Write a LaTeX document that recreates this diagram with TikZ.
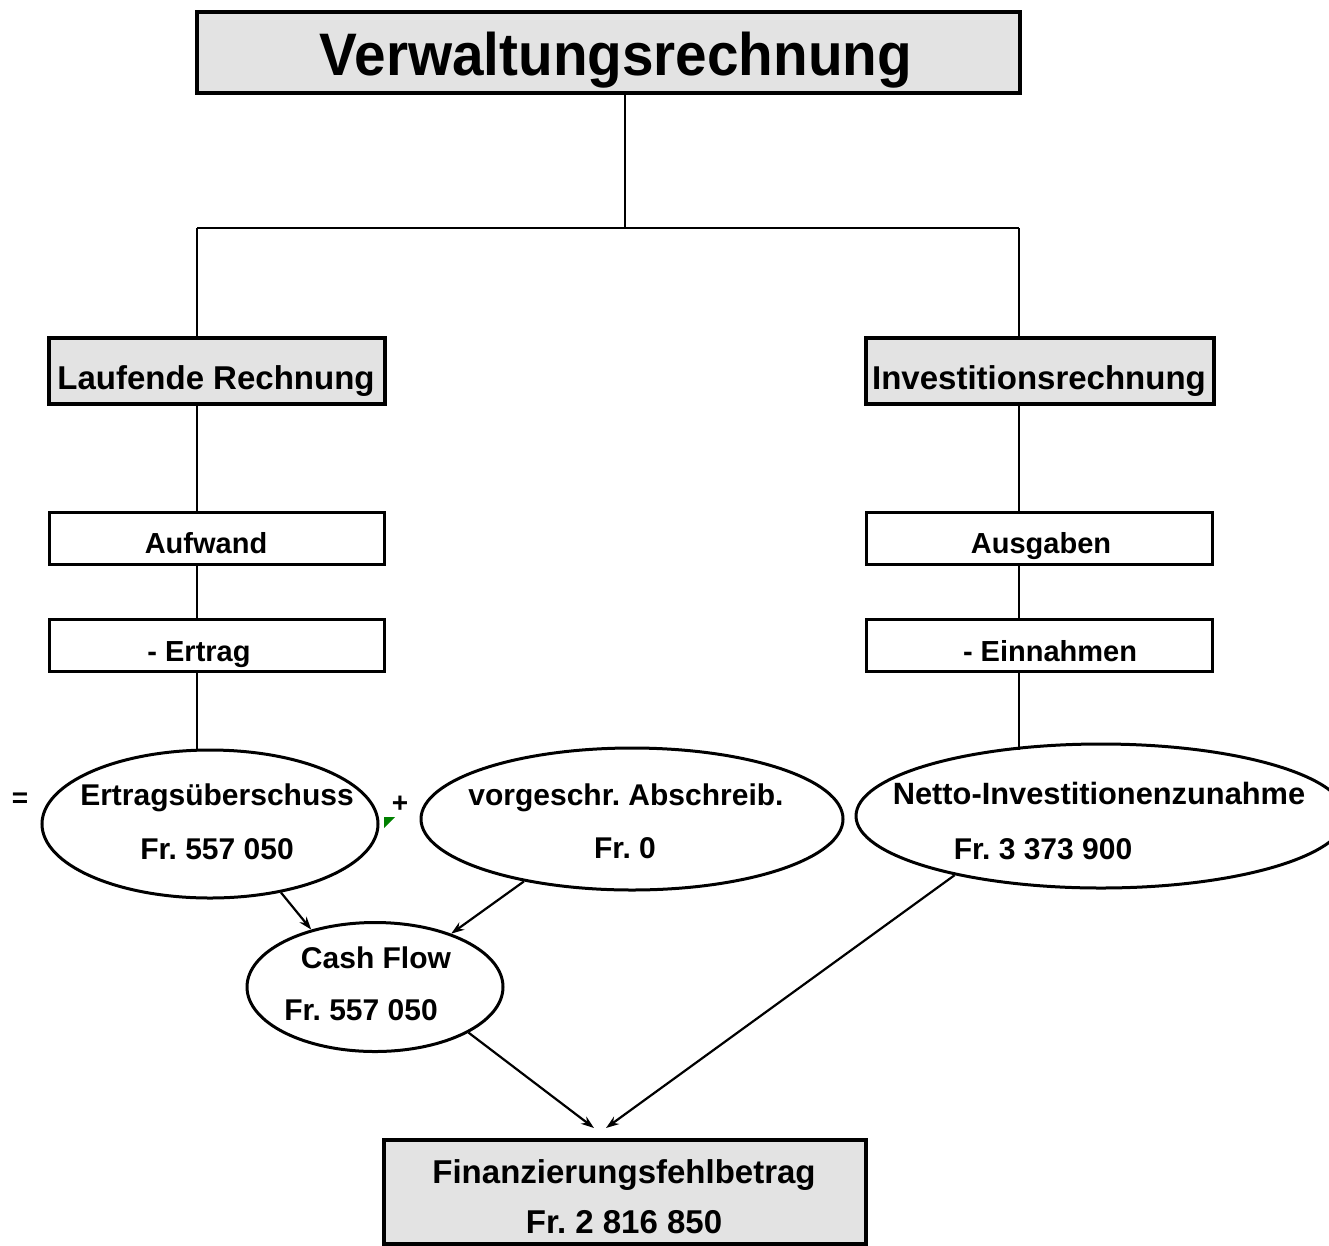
\documentclass[tikz,border=0pt]{standalone}
\usepackage{fontspec}
\usepackage{graphicx}
\setmainfont{Liberation Sans}
\usetikzlibrary{shapes.geometric,arrows.meta,positioning}
\definecolor{boxgray}{RGB}{227,227,227}
\definecolor{markgreen}{RGB}{0,128,0}
\tikzset{>={Stealth[length=13pt,width=9pt]}}
\tikzset{head box/.style={draw,line width=4pt,fill=boxgray,anchor=north west,inner sep=0pt},
         sub box/.style={draw,line width=2.5pt,fill=white,anchor=north west,inner sep=0pt},
         sum oval/.style={ellipse,draw,line width=3pt,inner sep=0pt},
         box text/.style={anchor=base,inner sep=0pt,font=\fontsize{30}{36}\selectfont\bfseries},
         big text/.style={box text,font=\fontsize{33}{40}\selectfont\bfseries},
         conn/.style={line width=2.5pt},
         flow arrow/.style={->,line width=2.2pt},
            }
\frenchspacing

\begin{document}
\begin{tikzpicture}[x=1pt,y=-1pt]
    \useasboundingbox (0,0) rectangle (1329,1245);
    \clip (0,0) rectangle (1329,1245);

    % boxes
    \node[head box,minimum width=823pt,minimum height=81pt] (titel) at (195,10) {};
    \node[head box,minimum width=336pt,minimum height=66pt] (lr) at (47,336) {};
    \node[head box,minimum width=348pt,minimum height=66pt] (ir) at (864,336) {};
    \node[sub box,minimum width=335pt,minimum height=52pt] (aufwand) at (48,511) {};
    \node[sub box,minimum width=335pt,minimum height=52pt] (ertrag) at (48,618) {};
    \node[sub box,minimum width=346pt,minimum height=52pt] (ausgaben) at (865,511) {};
    \node[sub box,minimum width=346pt,minimum height=52pt] (einnahmen) at (865,618) {};
    \node[head box,minimum width=482pt,minimum height=104pt] (fehl) at (382,1138) {};

    % ellipses
    \node[sum oval,minimum width=336pt,minimum height=148pt] (eu) at (210,824) {};
    \node[sum oval,minimum width=422pt,minimum height=142pt] (va) at (632,819) {};
    \node[sum oval,minimum width=490pt,minimum height=144pt] (ni) at (1101,816) {};
    \node[sum oval,minimum width=256pt,minimum height=129pt] (cf) at (375,987) {};

    % texts
    \node[box text,font=\fontsize{60}{66}\selectfont\bfseries] (titeltxt) at (616,75) {\scalebox{0.945}[1]{Verwaltungsrechnung}};
    \node[big text] (lrtxt) at (216,389) {Laufende Rechnung};
    \node[big text] (irtxt) at (1039,389) {Investitionsrechnung};
    \node[box text,font=\fontsize{29}{35}\selectfont\bfseries] (aufwandtxt) at (206,553) {Aufwand};
    \node[box text,font=\fontsize{29}{35}\selectfont\bfseries] (ertragtxt) at (199,661) {- Ertrag};
    \node[box text,font=\fontsize{29}{35}\selectfont\bfseries] (ausgabentxt) at (1041,553) {Ausgaben};
    \node[box text,font=\fontsize{29}{35}\selectfont\bfseries] (einnahmentxt) at (1050,661) {- Einnahmen};
    \node[box text] (eutxt) at (217,805) {Ertragsüberschuss};
    \node[box text] (eubetrag) at (217,859) {Fr. 557 050};
    \node[box text] (vatxt) at (626,805) {vorgeschr. Abschreib.};
    \node[box text] (vabetrag) at (625,858) {Fr. 0};
    \node[box text,font=\fontsize{30.8}{36}\selectfont\bfseries] (nitxt) at (1099,804) {Netto-Investitionenzunahme};
    \node[box text] (nibetrag) at (1043,859) {Fr. 3 373 900};
    \node[box text] (cftxt) at (376,968) {Cash Flow};
    \node[box text] (cfbetrag) at (361,1020) {Fr. 557 050};
    \node[big text] (fehltxt) at (624,1183) {Finanzierungsfehlbetrag};
    \node[big text] (fehlbetrag) at (624,1233) {Fr. 2 816 850};
    \node[box text,font=\fontsize{28}{34}\selectfont\bfseries] (gleich) at (20,807) {=};
    \node[box text,font=\fontsize{28}{34}\selectfont\bfseries] (plus) at (400,812) {+};
    \fill[markgreen] (384,817) -- (395,817) -- (384,828) -- cycle;

    % tree lines
    \coordinate (jm) at (625,228);
    \coordinate (jl) at (197,228);
    \coordinate (jr) at (1019,228);
    \draw[conn] (jm |- titel.south) -- (jm);
    \draw[conn] (jl) -- (jr);
    \draw[conn] (jl) -- (jl |- lr.north);
    \draw[conn] (jr) -- (jr |- ir.north);
    \draw[conn] (jl |- lr.south) -- (jl |- aufwand.north);
    \draw[conn] (jl |- aufwand.south) -- (jl |- ertrag.north);
    \draw[conn] (jl |- ertrag.south) -- (jl |- eu.north);
    \draw[conn] (jr |- ir.south) -- (jr |- ausgaben.north);
    \draw[conn] (jr |- ausgaben.south) -- (jr |- einnahmen.north);
    \draw[conn] (jr |- einnahmen.south) -- ++(0,77);

    % flows
    \coordinate (tipA) at (594,1128);
    \coordinate (tipB) at (606,1128);
    \draw[flow arrow] (eu.-44) -- (cf.138);
    \draw[flow arrow] (va.-150) -- (cf.35);
    \draw[flow arrow] (cf.-26) -- (tipA);
    \draw[flow arrow] (ni.-158) -- (tipB);

\end{tikzpicture}
\end{document}
